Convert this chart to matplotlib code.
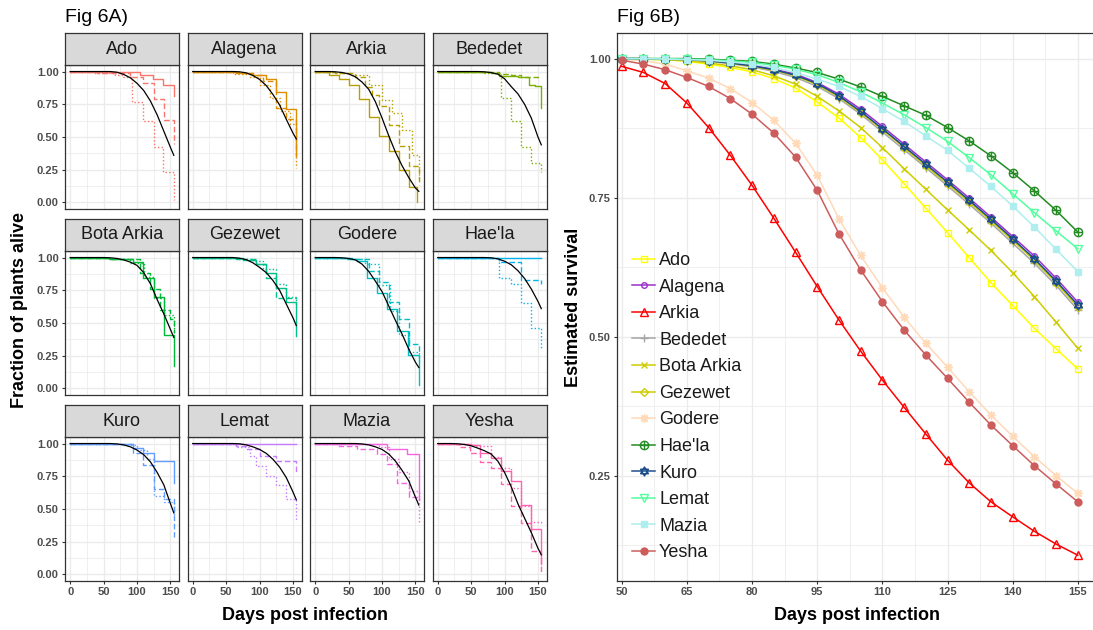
import matplotlib
matplotlib.use("Agg")
import matplotlib.pyplot as plt
from matplotlib.path import Path

plt.rcParams["font.family"] = ["Liberation Sans", "DejaVu Sans"]

W, H = 1093, 630

CULTIVARS = ["Ado", "Alagena", "Arkia", "Bededet", "Bota Arkia", "Gezewet",
             "Godere", "Hae'la", "Kuro", "Lemat", "Mazia", "Yesha"]

# ggplot hue colours used for the Kaplan-Meier panels
KM_COLORS = ["#F8766D", "#DE8C00", "#B79F00", "#7CAE00", "#00BA38", "#00C08B",
             "#00BFC4", "#00B4F0", "#619CFF", "#C77CFF", "#F564E3", "#FF64B0"]

# ---- Fig 6A: step curves (solid, dashed, dotted) as (days, fraction alive)
km_ado = [([0, 104, 124, 139, 155], [1, 0.977, 0.944, 0.90, 0.81]),
          ([0, 40, 90, 109, 125, 140, 155], [1, 0.99, 0.96, 0.91, 0.79, 0.63, 0.45]),
          ([0, 35, 67, 79, 92, 109, 125, 139, 155], [1, 0.99, 0.97, 0.955, 0.77, 0.62, 0.42, 0.23, 0.02])]
km_alagena = [([0, 70, 90, 110, 125, 140, 155], [1, 0.99, 0.975, 0.94, 0.84, 0.715, 0.36]),
              ([0, 65, 88, 105, 125, 140, 155], [1, 0.99, 0.97, 0.93, 0.72, 0.64, 0.35]),
              ([0, 60, 85, 100, 115, 130, 145, 155], [1, 0.985, 0.96, 0.90, 0.80, 0.70, 0.60, 0.26])]
km_arkia = [([0, 20, 35, 50, 65, 80, 95, 110, 125, 140, 152], [1, 0.975, 0.945, 0.895, 0.79, 0.65, 0.51, 0.39, 0.25, 0.12, 0.0]),
            ([0, 30, 60, 75, 85, 95, 110, 125, 140, 155], [1, 0.99, 0.96, 0.88, 0.82, 0.74, 0.59, 0.43, 0.28, 0.13]),
            ([0, 30, 55, 80, 100, 115, 130, 145, 155], [1, 0.99, 0.975, 0.90, 0.78, 0.68, 0.55, 0.36, 0.18])]
km_bededet = [([0, 80, 92, 120, 136, 145, 155], [1, 0.987, 0.965, 0.955, 0.90, 0.89, 0.72]),
              ([0, 65, 92, 110, 125, 155], [1, 0.995, 0.98, 0.975, 0.96, 0.96]),
              ([0, 70, 94, 109, 124, 139, 155], [1, 0.99, 0.80, 0.62, 0.42, 0.30, 0.23])]
km_bota = [([0, 60, 94, 109, 125, 140, 155], [1, 0.99, 0.965, 0.845, 0.70, 0.41, 0.17]),
           ([0, 60, 105, 120, 135, 150, 155], [1, 0.99, 0.88, 0.76, 0.60, 0.53, 0.42]),
           ([0, 55, 90, 110, 125, 140, 155], [1, 0.99, 0.96, 0.85, 0.69, 0.56, 0.42])]
km_gezewet = [([0, 75, 95, 110, 125, 140, 155], [1, 0.985, 0.95, 0.88, 0.77, 0.66, 0.40]),
              ([0, 65, 95, 110, 125, 155], [1, 0.99, 0.95, 0.845, 0.69, 0.68]),
              ([0, 70, 90, 105, 125, 140, 155], [1, 0.99, 0.97, 0.91, 0.80, 0.70, 0.62])]
km_godere = [([0, 48, 63, 78, 93, 108, 123, 139, 155], [1, 0.99, 0.97, 0.84, 0.73, 0.61, 0.44, 0.255, 0.03]),
             ([0, 55, 80, 95, 110, 125, 140, 155], [1, 0.99, 0.90, 0.81, 0.66, 0.53, 0.34, 0.27]),
             ([0, 50, 75, 95, 112, 125, 140, 155], [1, 0.99, 0.95, 0.79, 0.59, 0.41, 0.28, 0.20])]
km_haela = [([0, 155], [1, 1]),
            ([0, 92, 125, 155], [1, 0.965, 0.825, 0.80]),
            ([0, 92, 110, 124, 140, 155], [1, 0.84, 0.80, 0.65, 0.46, 0.29])]
km_kuro = [([0, 94, 109, 125, 155], [1, 0.967, 0.93, 0.866, 0.70]),
           ([0, 60, 94, 109, 125, 140, 155], [1, 0.995, 0.93, 0.835, 0.65, 0.575, 0.285]),
           ([0, 80, 100, 115, 125, 140, 155], [1, 0.99, 0.95, 0.88, 0.60, 0.55, 0.45])]
km_lemat = [([0, 155], [1, 1]),
            ([0, 65, 80, 100, 125, 155], [1, 0.985, 0.96, 0.905, 0.87, 0.78]),
            ([0, 65, 85, 95, 110, 125, 140, 155], [1, 0.97, 0.905, 0.83, 0.75, 0.68, 0.575, 0.41])]
km_mazia = [([0, 108, 138, 155], [1, 0.962, 0.92, 0.57]),
            ([0, 36, 63, 93, 108, 123, 140, 155], [1, 0.98, 0.96, 0.917, 0.84, 0.695, 0.59, 0.57]),
            ([0, 95, 110, 125, 140, 155], [1, 0.97, 0.88, 0.78, 0.64, 0.39])]
km_yesha = [([0, 48, 64, 79, 94, 109, 124, 139, 155], [1, 0.99, 0.93, 0.89, 0.79, 0.715, 0.53, 0.35, 0.08]),
            ([0, 32, 49, 64, 79, 94, 109, 124, 139, 155], [1, 0.97, 0.93, 0.86, 0.81, 0.69, 0.525, 0.39, 0.177, 0.02]),
            ([0, 55, 80, 95, 110, 125, 140, 155], [1, 0.98, 0.90, 0.81, 0.66, 0.52, 0.40, 0.38])]

# fitted curves (black), read every 10 days plus day 155
FIT_DAYS = [0, 10, 20, 30, 40, 50, 60, 70, 80, 90, 100, 110, 120, 130, 140, 150, 155]
fit_ado = [1, 1, 1, 1, 1, 1, 1.0, 0.995, 0.978, 0.952, 0.91, 0.855, 0.775, 0.67, 0.545, 0.42, 0.36]
fit_alagena = [1, 1, 1, 1, 1, 1, 1, 0.998, 0.99, 0.97, 0.94, 0.893, 0.825, 0.745, 0.635, 0.53, 0.485]
fit_arkia = [1, 1, 1, 0.998, 0.993, 0.982, 0.96, 0.92, 0.865, 0.77, 0.645, 0.51, 0.385, 0.28, 0.19, 0.11, 0.085]
fit_bededet = [1, 1, 1, 1, 1, 1, 1, 0.998, 0.992, 0.98, 0.945, 0.885, 0.83, 0.75, 0.645, 0.50, 0.44]
fit_bota = [1, 1, 1, 1, 1, 1, 0.998, 0.993, 0.982, 0.965, 0.94, 0.885, 0.80, 0.68, 0.57, 0.45, 0.39]
fit_gezewet = [1, 1, 1, 1, 1, 1, 1, 0.995, 0.984, 0.96, 0.925, 0.885, 0.825, 0.75, 0.645, 0.54, 0.48]
fit_godere = [1, 1, 1, 1, 0.998, 0.993, 0.982, 0.95, 0.895, 0.82, 0.74, 0.63, 0.52, 0.415, 0.30, 0.20, 0.16]
fit_haela = [1, 1, 1, 1, 1, 1, 1, 1, 0.998, 0.99, 0.972, 0.945, 0.90, 0.84, 0.76, 0.665, 0.61]
fit_kuro = [1, 1, 1, 1, 1, 1, 1, 0.997, 0.99, 0.975, 0.95, 0.915, 0.86, 0.78, 0.685, 0.54, 0.47]
fit_lemat = [1, 1, 1, 1, 1, 1, 1, 0.998, 0.99, 0.975, 0.955, 0.925, 0.88, 0.82, 0.74, 0.63, 0.57]
fit_mazia = [1, 1, 1, 1, 1, 1, 1, 0.997, 0.99, 0.975, 0.955, 0.92, 0.866, 0.795, 0.715, 0.59, 0.53]
fit_yesha = [1, 1, 1, 0.998, 0.993, 0.983, 0.965, 0.945, 0.92, 0.865, 0.78, 0.67, 0.54, 0.43, 0.32, 0.20, 0.15]

KM = [km_ado, km_alagena, km_arkia, km_bededet, km_bota, km_gezewet,
      km_godere, km_haela, km_kuro, km_lemat, km_mazia, km_yesha]
FITS = [fit_ado, fit_alagena, fit_arkia, fit_bededet, fit_bota, fit_gezewet,
        fit_godere, fit_haela, fit_kuro, fit_lemat, fit_mazia, fit_yesha]

# ---- Fig 6B: estimated survival, read every 5 days
EST_DAYS = list(range(50, 156, 5))
est_ado = [1.0, 0.999, 0.998, 0.995, 0.99, 0.984, 0.976, 0.964, 0.947, 0.922, 0.893, 0.858, 0.818, 0.775, 0.731, 0.687, 0.642, 0.597, 0.556, 0.515, 0.478, 0.442]
est_alagena = [1.0, 1.0, 0.999, 0.998, 0.996, 0.993, 0.988, 0.981, 0.972, 0.957, 0.936, 0.909, 0.878, 0.846, 0.814, 0.782, 0.749, 0.715, 0.68, 0.645, 0.605, 0.562]
est_arkia = [0.986, 0.975, 0.955, 0.92, 0.876, 0.826, 0.772, 0.713, 0.652, 0.59, 0.53, 0.474, 0.422, 0.373, 0.325, 0.278, 0.237, 0.203, 0.176, 0.15, 0.127, 0.107]
est_bededet = [1.0, 1.0, 0.999, 0.997, 0.995, 0.991, 0.985, 0.977, 0.966, 0.95, 0.928, 0.90, 0.868, 0.836, 0.804, 0.771, 0.738, 0.704, 0.668, 0.632, 0.592, 0.548]
est_bota = [1.0, 0.999, 0.998, 0.996, 0.992, 0.987, 0.98, 0.969, 0.954, 0.932, 0.906, 0.876, 0.84, 0.802, 0.765, 0.728, 0.692, 0.655, 0.615, 0.572, 0.526, 0.479]
est_gezewet = [1.0, 1.0, 0.999, 0.998, 0.996, 0.992, 0.986, 0.979, 0.969, 0.953, 0.931, 0.903, 0.872, 0.84, 0.807, 0.775, 0.742, 0.708, 0.673, 0.637, 0.597, 0.553]
est_godere = [0.999, 0.996, 0.99, 0.978, 0.965, 0.946, 0.921, 0.889, 0.848, 0.79, 0.712, 0.646, 0.588, 0.535, 0.488, 0.445, 0.401, 0.359, 0.321, 0.284, 0.25, 0.218]
est_haela = [1.0, 1.0, 1.0, 1.0, 0.999, 0.997, 0.995, 0.99, 0.983, 0.975, 0.963, 0.949, 0.932, 0.915, 0.898, 0.876, 0.852, 0.825, 0.795, 0.762, 0.727, 0.688]
est_kuro = [1.0, 1.0, 0.999, 0.998, 0.996, 0.992, 0.987, 0.98, 0.97, 0.955, 0.933, 0.905, 0.874, 0.842, 0.81, 0.778, 0.745, 0.711, 0.676, 0.64, 0.60, 0.557]
est_lemat = [1.0, 1.0, 1.0, 0.999, 0.998, 0.996, 0.993, 0.988, 0.981, 0.971, 0.957, 0.94, 0.92, 0.899, 0.876, 0.851, 0.822, 0.791, 0.757, 0.723, 0.69, 0.658]
est_mazia = [1.0, 1.0, 0.999, 0.998, 0.997, 0.994, 0.99, 0.984, 0.975, 0.963, 0.95, 0.932, 0.91, 0.887, 0.861, 0.835, 0.803, 0.77, 0.735, 0.697, 0.657, 0.617]
est_yesha = [0.997, 0.99, 0.98, 0.966, 0.95, 0.928, 0.90, 0.866, 0.823, 0.763, 0.685, 0.62, 0.563, 0.512, 0.467, 0.425, 0.382, 0.341, 0.304, 0.268, 0.235, 0.203]

EST = [est_ado, est_alagena, est_arkia, est_bededet, est_bota, est_gezewet,
       est_godere, est_haela, est_kuro, est_lemat, est_mazia, est_yesha]

EST_COLORS = ["#FFFF00", "#9A32CD", "#FF0000", "#A6A6A6", "#CDCD00", "#CDCD00",
              "#FFDAB9", "#228B22", "#1C4E8C", "#54FF9F", "#AEEEEE", "#CD5C5C"]

# R pch-like markers
_tri = Path.unit_regular_polygon(3)
star_david = Path.make_compound_path(_tri, Path(_tri.vertices * [1, -1], _tri.codes))
circle_plus = Path.make_compound_path(
    Path.unit_circle(),
    Path([(-1, 0), (1, 0), (0, -1), (0, 1)], [Path.MOVETO, Path.LINETO, Path.MOVETO, Path.LINETO]))
# (marker, filled, size)
EST_MARKERS = [("s", False, 5), ("o", False, 4), ("^", False, 5.5), ("+", False, 6),
               ("x", False, 5), ("D", False, 4.5), ((8, 2, 0), False, 6), (circle_plus, False, 6),
               (star_david, False, 6.5), ("v", False, 5.5), ("s", True, 5), ("o", True, 5)]


def px_box(left, top, width, height):
    return [left / W, 1 - (top + height) / H, width / W, height / H]


def style_axes(ax):
    for sp in ax.spines.values():
        sp.set_color("#333333")
        sp.set_linewidth(0.9)
    ax.grid(which="major", color="#EBEBEB", linewidth=1.0)
    ax.grid(which="minor", color="#EBEBEB", linewidth=0.55)
    ax.set_axisbelow(True)
    ax.tick_params(which="major", length=2.5, width=0.8, color="#333333",
                   labelsize=8, labelcolor="#4D4D4D", pad=2)
    ax.tick_params(which="minor", length=0)


fig = plt.figure(figsize=(W / 100, H / 100), dpi=100)

# ---------------- Fig 6A ----------------
COL_LEFT = [65, 187.5, 310, 432.5]
ROW_TOP = [65, 251, 437]
PANEL_W, PANEL_H, STRIP_H = 114, 144, 32
LINESTYLES = ["-", (0, (4, 2)), (0, (1, 1.6))]

for i, name in enumerate(CULTIVARS):
    r, c = divmod(i, 4)
    ax = fig.add_axes(px_box(COL_LEFT[c], ROW_TOP[r], PANEL_W, PANEL_H))
    style_axes(ax)
    for (t, s), ls in zip(KM[i], LINESTYLES):
        ax.step(t, s, where="post", color=KM_COLORS[i], lw=1.0, ls=ls)
    ax.plot(FIT_DAYS, FITS[i], color="black", lw=0.9)
    ax.set_xlim(-7.75, 162.75)
    ax.set_ylim(-0.05, 1.05)
    ax.set_xticks([25, 75, 125], minor=True)
    ax.set_yticks([0.125, 0.375, 0.625, 0.875], minor=True)
    if r == 2:
        ax.set_xticks([0, 50, 100, 150], ["0", "50", "100", "150"], fontweight="bold")
    else:
        ax.set_xticks([0, 50, 100, 150])
        ax.tick_params(bottom=False, labelbottom=False)
    if c == 0:
        ax.set_yticks([0, 0.25, 0.5, 0.75, 1.0], ["0.00", "0.25", "0.50", "0.75", "1.00"],
                      fontweight="bold")
    else:
        ax.set_yticks([0, 0.25, 0.5, 0.75, 1.0])
        ax.tick_params(left=False, labelleft=False)

    strip = fig.add_axes(px_box(COL_LEFT[c], ROW_TOP[r] - STRIP_H, PANEL_W, STRIP_H))
    strip.set_facecolor("#D9D9D9")
    strip.set_xticks([])
    strip.set_yticks([])
    for sp in strip.spines.values():
        sp.set_color("#333333")
        sp.set_linewidth(0.9)
    strip.text(0.5, 0.5, name, ha="center", va="center", fontsize=13, color="#1A1A1A",
               transform=strip.transAxes)

fig.text(65 / W, 1 - 17 / H, "Fig 6A)", fontsize=14, va="center", ha="left")
fig.text(305 / W, 1 - 615 / H, "Days post infection", fontsize=13, fontweight="bold",
         ha="center", va="center")
fig.text(20 / W, 1 - 310 / H, "Fraction of plants alive", fontsize=13, fontweight="bold",
         ha="center", va="center", rotation=90)

# ---------------- Fig 6B ----------------
axb = fig.add_axes(px_box(617, 33, 476, 548))
style_axes(axb)
axb.spines["right"].set_visible(False)
for i, name in enumerate(CULTIVARS):
    mk, filled, ms = EST_MARKERS[i]
    col = EST_COLORS[i]
    axb.plot(EST_DAYS, EST[i], color=col, lw=1.1, marker=mk, ms=ms,
             mfc=col if filled else "none", mec=col, mew=1.0, label=name)
axb.set_xlim(48.9, 158.5)
axb.set_ylim(0.0606, 1.046)
axb.set_xticks(list(range(50, 156, 15)), [str(d) for d in range(50, 156, 15)], fontweight="bold")
axb.set_xticks([57.5, 72.5, 87.5, 102.5, 117.5, 132.5, 147.5], minor=True)
axb.set_yticks([0.25, 0.5, 0.75, 1.0], ["0.25", "0.50", "0.75", "1.00"], fontweight="bold")
axb.set_yticks([0.125, 0.375, 0.625, 0.875], minor=True)

axb.legend(loc="upper left", bbox_to_anchor=(632 / W, 1 - 252 / H), bbox_transform=fig.transFigure,
           frameon=False, fontsize=13, handlelength=1.3, handletextpad=0.2,
           labelspacing=0.53, borderpad=0, borderaxespad=0, labelcolor="#1A1A1A")

fig.text(617 / W, 1 - 17 / H, "Fig 6B)", fontsize=14, va="center", ha="left")
fig.text(857 / W, 1 - 615 / H, "Days post infection", fontsize=13, fontweight="bold",
         ha="center", va="center")
fig.text(573 / W, 1 - 307 / H, "Estimated survival", fontsize=13, fontweight="bold",
         ha="center", va="center", rotation=90)

fig.savefig("out.png", dpi=100)
